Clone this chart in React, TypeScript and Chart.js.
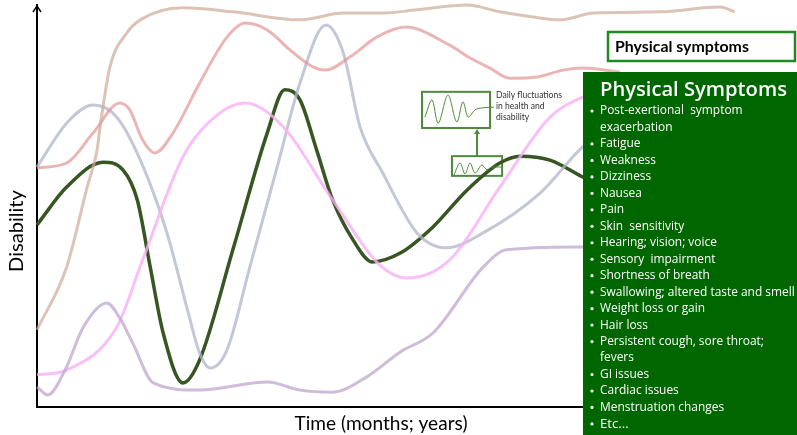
import React, { useEffect, useRef } from "react";
import { Chart, registerables } from "chart.js";
Chart.register(...registerables);

// ---- Data (time 0-100, disability 0-100) ----
const mainCourse = [[0,45.3],[3.9,54.7],[8.7,60.9],[11.3,59.0],[13.2,51.5],[14.9,34.8],[16.6,18.4],[19.2,6.0],[21.4,11.7],[25.8,39.3],[30.3,68.2],[32.6,78.9],[34.6,76.4],[36.8,63.9],[38.9,51.5],[41.6,41.5],[44.1,36.1],[47.8,38.3],[52.1,44.8],[56.6,54.0],[60.9,60.7],[63.6,62.4],[67.5,61.4],[71.8,57.2],[76.7,52.7]];
const grayCourse = [[0,59.7],[3.9,70.6],[7.4,75.1],[10.5,72.1],[13.6,61.4],[17.1,43.3],[19.7,24.9],[21.4,13.4],[22.8,9.7],[25.0,14.2],[28.0,34.8],[31.6,59.7],[34.6,80.6],[38.0,95.0],[40.3,88.1],[42.5,69.7],[45.5,58.2],[50.0,43.3],[53.9,39.6],[58.7,43.3],[66.2,53.2],[71.8,64.7],[76.7,71.4]];
const redCourse = [[0,59.5],[3.9,60.7],[7.4,68.2],[10.9,75.6],[12.2,73.9],[13.9,66.4],[15.5,63.2],[17.9,68.2],[21.4,80.6],[25.0,92.0],[27.4,95.5],[30.3,93.8],[33.3,88.8],[36.3,84.6],[37.9,83.8],[41.2,87.1],[44.7,92.0],[48.5,94.5],[54.3,90.0],[57.0,86.8],[59.6,84.3],[62.2,81.8],[65.8,82.1],[69.2,83.8],[71.8,84.3],[76.7,83.3]];
const tanCourse = [[0,19.2],[3.9,34.8],[6.6,54.7],[7.9,63.9],[8.3,69.7],[9.6,84.6],[11.8,93.0],[13.6,96.3],[19.2,99.3],[25.8,98.3],[34.6,96.3],[40.3,98.0],[45.5,98.0],[50.0,98.8],[56.6,100],[60.9,98.3],[65.3,97.0],[68.8,96.3],[73.2,98.0],[82.0,98.3],[89.9,99.5],[91.8,98.3]];
const pinkCourse = [[0,8.0],[3.9,9.2],[10.5,19.9],[13.9,36.6],[19.2,62.2],[23.7,72.6],[27.4,75.6],[32.4,69.7],[38.9,51.5],[45.1,35.3],[48.7,32.1],[54.3,36.6],[60.9,54.7],[67.5,72.1],[71.8,77.1],[76.7,80.1]];
const purpleCourse = [[0,5.0],[1.4,3.0],[3.7,9.2],[6.1,19.9],[9.2,25.9],[10.9,22.1],[12.6,15.9],[15.3,6.0],[21.4,4.2],[30.3,6.2],[34.6,4.2],[38.9,3.7],[43.4,7.5],[47.8,13.7],[52.1,18.4],[58.7,34.8],[61.8,39.1],[71.8,39.8],[76.7,40.0]];
const dailyLarge = [[51.05,72.1],[51.97,76.4],[52.76,70.6],[54.08,77.6],[55.26,70.9],[56.05,75.9],[56.71,72.1],[57.63,73.9],[58.55,74.4],[60.13,74.6]];
const dailySmall = [[54.87,57.7],[55.66,60.7],[56.32,58.0],[56.97,60.7],[57.63,58.2],[58.55,60.2],[59.21,59.0],[59.87,59.7],[61.18,59.7]];

const xTitle = "Time (months; years)";
const yTitle = "Disability";
const insetLabel = ["Daily fluctuations", "in health and", "disability"];
const headerLabel = "Physical symptoms";
const panelTitle = "Physical Symptoms";
const symptoms = [
  ["Post-exertional  symptom", "exacerbation"],
  ["Fatigue"],
  ["Weakness"],
  ["Dizziness"],
  ["Nausea"],
  ["Pain"],
  ["Skin  sensitivity"],
  ["Hearing; vision; voice"],
  ["Sensory  impairment"],
  ["Shortness of breath"],
  ["Swallowing; altered taste and smell"],
  ["Weight loss or gain"],
  ["Hair loss"],
  ["Persistent cough, sore throat;", "fevers"],
  ["GI issues"],
  ["Cardiac issues"],
  ["Menstruation changes"],
  ["Etc..."],
];

const FONT = "Lato, 'Open Sans', sans-serif";
const PANEL_FONT = "'Open Sans', Lato, sans-serif";
const toPts = (a: number[][]) => a.map(([x, y]) => ({ x, y }));

function fit(ctx: CanvasRenderingContext2D, text: string, target: number, weight = "normal", family = FONT) {
  ctx.font = `${weight} 20px ${family}`;
  const w = ctx.measureText(text).width;
  return (20 * target) / w;
}

const overlay = {
  id: "overlay",
  beforeDatasetsDraw(chart: any) {
    const ctx: CanvasRenderingContext2D = chart.ctx;
    const xs = chart.scales.x, ys = chart.scales.y;
    const px = (v: number) => xs.getPixelForValue(v);
    const py = (v: number) => ys.getPixelForValue(v);
    ctx.save();
    ctx.strokeStyle = "#4e8a3c";
    ctx.lineWidth = 2;
    const bx1 = px(50.66), bx2 = px(59.61), by1 = py(78.4), by2 = py(69.4);
    ctx.fillStyle = "#ffffff";
    ctx.fillRect(bx1, by1, bx2 - bx1, by2 - by1);
    ctx.strokeRect(bx1, by1, bx2 - bx1, by2 - by1);
    const sx1 = px(54.6), sx2 = px(61.2), sy1 = py(62.4), sy2 = py(57.5);
    ctx.strokeRect(sx1, sy1, sx2 - sx1, sy2 - sy1);
    const ax = (sx1 + sx2) / 2;
    ctx.beginPath();
    ctx.moveTo(ax, sy1);
    ctx.lineTo(ax, by2 + 4);
    ctx.stroke();
    ctx.fillStyle = "#4e8a3c";
    ctx.beginPath();
    ctx.moveTo(ax, by2 + 1);
    ctx.lineTo(ax - 3, by2 + 6);
    ctx.lineTo(ax + 3, by2 + 6);
    ctx.closePath();
    ctx.fill();
    ctx.fillStyle = "#333";
    const fs = fit(ctx, insetLabel[0], 66);
    ctx.font = `normal ${fs}px ${FONT}`;
    ctx.textBaseline = "middle";
    ctx.textAlign = "left";
    insetLabel.forEach((t, i) => ctx.fillText(t, bx2 + 6, by1 + 3 + i * 11));
    ctx.restore();
  },
  afterDatasetsDraw(chart: any) {
    const ctx: CanvasRenderingContext2D = chart.ctx;
    const W = chart.width, H = chart.height;
    const ca = chart.chartArea;
    ctx.save();
    ctx.strokeStyle = "#000";
    ctx.lineWidth = 1.5;
    ctx.beginPath();
    ctx.moveTo(ca.left - 4, ca.top + 7);
    ctx.lineTo(ca.left, ca.top + 1);
    ctx.lineTo(ca.left + 4, ca.top + 7);
    ctx.stroke();
    ctx.fillStyle = "#000";
    ctx.textBaseline = "middle";
    ctx.textAlign = "center";
    let fs = fit(ctx, xTitle, 173);
    ctx.font = `normal ${fs}px ${FONT}`;
    ctx.fillText(xTitle, 381, 424);
    fs = fit(ctx, yTitle, 82);
    ctx.font = `normal ${fs}px ${FONT}`;
    ctx.save();
    ctx.translate(17, 231);
    ctx.rotate(-Math.PI / 2);
    ctx.fillText(yTitle, 0, 0);
    ctx.restore();
    ctx.fillStyle = "#ffffff";
    ctx.fillRect(608, 32, 188, 29);
    ctx.strokeStyle = "#1f8a1f";
    ctx.lineWidth = 2.5;
    ctx.strokeRect(608, 32, 187, 29);
    ctx.fillStyle = "#000";
    ctx.textAlign = "left";
    fs = fit(ctx, headerLabel, 134, "bold");
    ctx.font = `bold ${fs}px ${FONT}`;
    ctx.fillText(headerLabel, 615, 47);
    ctx.fillStyle = "#006600";
    ctx.fillRect(583, 72, W - 583, H - 72);
    ctx.fillStyle = "#ffffff";
    fs = fit(ctx, panelTitle, 187, "600", PANEL_FONT);
    ctx.font = `600 ${fs}px ${PANEL_FONT}`;
    ctx.fillText(panelTitle, 600, 90);
    const bfs = fit(ctx, "Swallowing; altered taste and smell", 195, "normal", PANEL_FONT);
    let line = 0;
    symptoms.forEach((item, idx) => {
      const big = idx === symptoms.length - 1;
      item.forEach((t, j) => {
        const y = 111 + line * 16.47;
        if (j === 0) {
          ctx.beginPath();
          ctx.arc(592, y, 1.6, 0, Math.PI * 2);
          ctx.fill();
        }
        ctx.font = `normal ${big ? bfs * 1.1 : bfs}px ${PANEL_FONT}`;
        ctx.fillText(t, 600, y);
        line++;
      });
    });
    ctx.restore();
  },
};

export default function App() {
  const ref = useRef<HTMLCanvasElement>(null);
  useEffect(() => {
    document.body.style.margin = "0";
    const faint = (data: number[][], color: string) => ({
      data: toPts(data),
      borderColor: color,
      borderWidth: 3,
      pointRadius: 0,
      cubicInterpolationMode: "monotone" as const,
      clip: false as any,
    });
    const chart = new Chart(ref.current!, {
      type: "line",
      data: {
        datasets: [
          faint(tanCourse, "rgba(205,170,150,0.7)"),
          faint(purpleCourse, "rgba(190,165,205,0.75)"),
          faint(pinkCourse, "rgba(250,175,245,0.8)"),
          faint(redCourse, "rgba(225,150,148,0.7)"),
          faint(grayCourse, "rgba(175,180,200,0.75)"),
          { ...faint(dailyLarge, "#4e8a3c"), borderWidth: 1 },
          { ...faint(dailySmall, "#4e8a3c"), borderWidth: 1 },
          { ...faint(mainCourse, "#375623"), borderWidth: 3.5 },
        ],
      },
      options: {
        responsive: false,
        animation: false,
        devicePixelRatio: 1,
        layout: { padding: { left: 37, right: 0, top: 5, bottom: 28 } },
        plugins: { legend: { display: false }, tooltip: { enabled: false } },
        scales: {
          x: {
            type: "linear", min: 0, max: 100,
            ticks: { display: false },
            grid: { display: false, drawTicks: false },
            border: { display: true, color: "#000", width: 2 },
          },
          y: {
            min: 0, max: 100,
            ticks: { display: false },
            grid: { display: false, drawTicks: false },
            border: { display: true, color: "#000", width: 2 },
          },
        },
      },
      plugins: [overlay],
    });
    return () => chart.destroy();
  }, []);
  return (
    <div style={{ position: "absolute", left: 0, top: 0, width: 797, height: 435, background: "#fff" }}>
      <canvas ref={ref} width={797} height={435} />
    </div>
  );
}
